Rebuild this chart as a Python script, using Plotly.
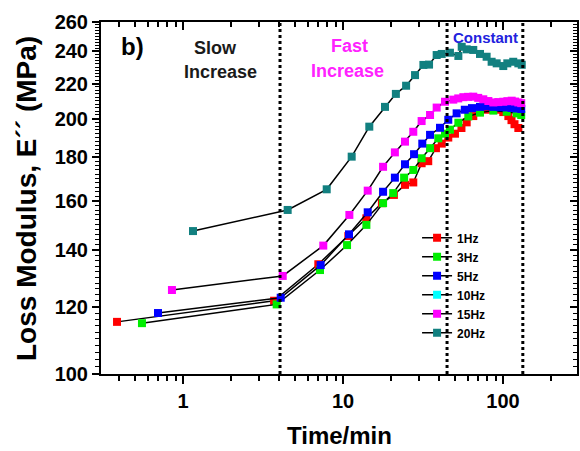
import plotly.graph_objects as go

# ---- data ----
t_1hz = [0.387, 3.71, 7.01, 10.8, 14.0, 17.5, 20.8, 24.4, 27.5, 31.0, 34.1, 38.1, 41.4, 45.5, 50.1,
         55.0, 59.3, 65.2, 71.8, 79.0, 87.0, 95.0, 100.4, 108.0, 113.0, 118.0, 124.7]
e_1hz = [115.2, 122.0, 134.7, 145.4, 152.6, 159.0, 162.6, 167.1, 168.2, 177.2, 178.2, 184.6, 186.9, 190.0, 192.0,
         195.0, 198.0, 201.4, 203.6, 204.9, 205.4, 204.9, 203.6, 201.4, 199.2, 197.0, 195.0]

t_3hz = [0.554, 3.85, 7.18, 10.6, 14.0, 17.8, 20.6, 24.1, 27.5, 31.0, 35.0, 39.4, 43.4, 46.6, 52.6,
         60.7, 71.8, 87.0, 105.5, 121.8, 130.0]
e_3hz = [114.8, 120.8, 132.6, 141.9, 149.9, 159.0, 163.4, 170.4, 174.0, 179.6, 184.6, 189.6, 192.0, 194.1, 197.8,
         201.2, 203.3, 204.4, 203.8, 202.9, 202.0]

t_5hz = [0.698, 4.08, 7.25, 10.9, 14.27, 17.8, 21.1, 24.4, 27.8, 31.3, 35.0, 40.4, 45.5, 51.3, 57.7,
         64.0, 71.8, 79.0, 87.0, 96.0, 105.5, 113.0, 121.8, 130.0]
e_5hz = [118.0, 123.0, 134.4, 146.1, 155.1, 164.0, 170.4, 176.7, 181.6, 186.9, 191.4, 195.1, 199.4, 202.9, 204.9,
         205.8, 206.5, 206.8, 206.5, 206.3, 206.2, 205.9, 205.6, 205.3]

# 10 Hz is listed in the legend but its points are not visible in the picture
t_10hz = [None]
e_10hz = [None]

t_15hz = [0.853, 4.2, 7.53, 10.96, 14.27, 17.8, 21.1, 24.4, 27.5, 31.0, 35.0, 38.5, 43.4, 48.9, 52.5,
          56.5, 60.5, 65.2, 70.0, 75.3, 81.0, 87.0, 93.5, 100.4, 106.5, 113.3, 119.0, 124.7, 130.0]
e_15hz = [125.6, 130.5, 141.7, 154.0, 164.5, 175.5, 182.5, 187.9, 193.0, 198.7, 202.0, 206.1, 209.4, 210.6, 211.3,
          212.0, 212.2, 212.3, 211.6, 210.8, 209.8, 209.0, 209.2, 209.4, 209.7, 210.0, 209.5, 209.0, 208.6]

t_20hz = [1.155, 4.51, 7.91, 11.33, 14.6, 18.3, 21.4, 24.8, 28.2, 31.8, 34.5, 38.5, 41.4, 46.6, 52.6,
          55.2, 59.3, 65.2, 71.8, 79.0, 84.9, 91.3, 100.4, 106.4, 115.9, 124.7, 131.0]
e_20hz = [147.4, 156.1, 165.1, 180.4, 195.7, 206.5, 213.9, 218.7, 225.1, 231.4, 231.6, 237.7, 238.4, 239.2, 237.1,
          243.1, 241.4, 241.0, 238.4, 236.6, 233.4, 232.4, 230.7, 232.4, 233.4, 232.4, 231.5]

series_names = ["1Hz", "3Hz", "5Hz", "10Hz", "15Hz", "20Hz"]
series_t = [t_1hz, t_3hz, t_5hz, t_10hz, t_15hz, t_20hz]
series_e = [e_1hz, e_3hz, e_5hz, e_10hz, e_15hz, e_20hz]
series_colors = ["#ff0000", "#00ee00", "#0000ff", "#00ffff", "#ff00ff", "#128080"]

phase_bounds = [4.04, 44.7, 133.0]

x_ticks = [1, 10, 100]
x_minor = [0.4, 0.5, 0.6, 0.7, 0.8, 0.9, 2, 3, 4, 5, 6, 7, 8, 9,
           20, 30, 40, 50, 60, 70, 80, 90, 200]
y_ticks = [100, 120, 140, 160, 180, 200, 220, 240, 260]
y_minor = [v for v in range(102, 260, 2) if v % 20 != 0]

FONT = "Liberation Sans, Arial, sans-serif"

fig = go.Figure()
for name, t, e, c in zip(series_names, series_t, series_e, series_colors):
    fig.add_trace(go.Scatter(
        x=t, y=e, name=name, mode="lines+markers",
        line=dict(color="black", width=1.5),
        marker=dict(symbol="square", size=8, color=c, line=dict(width=0)),
    ))
# helper trace for the mirrored (top/right) axes
fig.add_trace(go.Scatter(x=[], y=[], xaxis="x2", yaxis="y2", showlegend=False, hoverinfo="skip"))

for b in phase_bounds:
    fig.add_shape(type="line", xref="x", yref="paper", x0=b, x1=b, y0=0, y1=1,
                  line=dict(color="black", width=3, dash="dot"))

xr = [-0.5125, 2.4625]
yr = [2.0, 2.41497]
tickfont = dict(family=FONT, size=20, color="black", weight="bold")

fig.update_layout(
    width=580, height=451,
    margin=dict(l=101, r=3, t=22, b=77),
    paper_bgcolor="white", plot_bgcolor="white",
    showlegend=True,
    legend=dict(x=0.664, y=0.428, xanchor="left", yanchor="top",
                bgcolor="rgba(0,0,0,0)", font=dict(family=FONT, size=12, color="black", weight="bold"),
                tracegroupgap=0, itemwidth=30),
    xaxis=dict(type="log", range=xr, tickvals=x_ticks, ticktext=[str(v) for v in x_ticks],
               ticks="outside", ticklen=8, tickwidth=2, tickcolor="black",
               showline=True, linewidth=2, linecolor="black", showgrid=False, zeroline=False,
               tickfont=tickfont,
               minor=dict(tickvals=x_minor, ticks="outside", ticklen=5, tickwidth=1.5, tickcolor="black",
                          showgrid=False)),
    yaxis=dict(type="log", range=yr, tickvals=y_ticks, ticktext=[str(v) for v in y_ticks],
               ticks="outside", ticklen=7, tickwidth=2, tickcolor="black",
               showline=True, linewidth=2, linecolor="black", showgrid=False, zeroline=False,
               tickfont=tickfont,
               minor=dict(tickvals=y_minor, ticks="outside", ticklen=4, tickwidth=1.2, tickcolor="black",
                          showgrid=False)),
    xaxis2=dict(type="log", range=xr, overlaying="x", side="top", anchor="y2",
                tickvals=x_ticks, showticklabels=False, ticks="inside", ticklen=8, tickwidth=2,
                tickcolor="black", showline=True, linewidth=2, linecolor="black", showgrid=False,
                minor=dict(tickvals=x_minor, ticks="inside", ticklen=5, tickwidth=1.5, tickcolor="black")),
    yaxis2=dict(type="log", range=yr, overlaying="y", side="right", anchor="x2",
                tickvals=y_ticks, showticklabels=False, ticks="inside", ticklen=7, tickwidth=2,
                tickcolor="black", showline=True, linewidth=2, linecolor="black", showgrid=False,
                minor=dict(tickvals=y_minor, ticks="inside", ticklen=4, tickwidth=1.2, tickcolor="black")),
)

def ann(text, x, y, size, color="black", angle=0):
    fig.add_annotation(text=text, x=x, y=y, xref="paper", yref="paper", showarrow=False,
                       xanchor="center", yanchor="middle", textangle=angle,
                       font=dict(family=FONT, size=size, color=color, weight="bold"))

ann("b)", 0.067, 0.929, 24)
ann("Slow", 0.2395, 0.926, 18, "#1a1a1a")
ann("Increase", 0.25, 0.858, 18, "#1a1a1a")
ann("Fast", 0.523, 0.932, 18, "#ff22ff")
ann("Increase", 0.517, 0.861, 18, "#ff22ff")
ann("Constant", 0.807, 0.957, 15, "#2222dd")
ann("Time/min", 0.5, -0.176, 24)
ann("Loss Modulus, E´´ (MPa)", -0.1576, 0.5, 28, angle=-90)

fig.write_html("out.html")
